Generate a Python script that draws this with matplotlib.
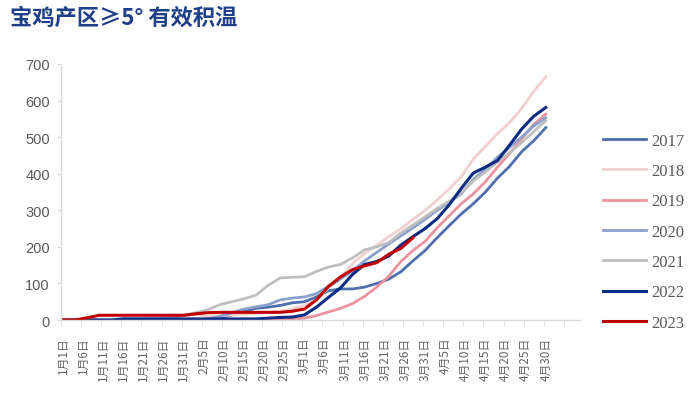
import numpy as np
import matplotlib
matplotlib.use("Agg")
import matplotlib.pyplot as plt

plt.rcParams['font.family'] = ['Noto Sans CJK SC', 'DejaVu Sans']

# category index (Jan 1 .. Apr 30, incl. Feb 29 slot), sampled every 3 categories
idx = list(range(0, 118, 3)) + [120]

s2017 = [0]*12 + [2, 6, 14, 25, 32, 35, 40, 47, 50, 63, 80, 85, 85, 90, 100, 112, 132, 162, 190,
                  225, 258, 290, 318, 350, 388, 420, 460, 490, 526]
s2018 = [0]*7 + [3, 5, 8, 12, 15, 10, 12, 14, 16, 18, 20, 24, 30, 40, 55, 88, 115, 155, 182, 205,
                 228, 250, 275, 300, 328, 358, 392, 440, 475, 510, 540, 578, 625, 665]
s2019 = [0]*19 + [2, 5, 12, 22, 32, 45, 65, 90, 120, 160, 190, 215, 252, 285, 318, 345, 378, 418,
                  455, 495, 535, 563]
s2020 = [0]*12 + [3, 10, 20, 30, 36, 42, 55, 60, 63, 72, 92, 112, 135, 162, 185, 208, 230, 252,
                  275, 300, 322, 345, 385, 412, 445, 472, 500, 530, 553]
s2021 = [0]*4 + [2, 3, 3, 3, 4, 7, 13, 20, 28, 42, 50, 58, 68, 95, 115, 117, 118, 133, 145, 152,
                 170, 192, 200, 212, 238, 260, 282, 305, 325, 348, 380, 405, 432, 458, 485, 515, 545]
s2022 = [0]*5 + [3]*12 + [5, 7, 8, 14, 35, 62, 88, 125, 152, 160, 175, 205, 228, 250, 277, 315,
                          360, 402, 418, 436, 478, 522, 557, 581]
s2023 = [0, 0, 6, 13, 13, 13, 13, 13, 13, 13, 13, 17, 20, 21, 21, 21, 21, 21, 21, 24, 30, 55, 92,
         118, 138, 148, 157, 180, 196, 225] + [np.nan]*11

years = ['2017', '2018', '2019', '2020', '2021', '2022', '2023']
series = [s2017, s2018, s2019, s2020, s2021, s2022, s2023]
colors = ['#4f6fb0', '#f0d0d0', '#ec939e', '#8aa0cd', '#bfbfbf', '#0c2c84', '#c00000']
widths = [2.0, 2.0, 2.0, 2.0, 2.0, 2.2, 2.2]

tick_pos = list(range(0, 121, 5))
tick_labels = ['1月1日', '1月6日', '1月11日', '1月16日', '1月21日', '1月26日', '1月31日',
               '2月5日', '2月10日', '2月15日', '2月20日', '2月25日', '3月1日', '3月6日',
               '3月11日', '3月16日', '3月21日', '3月26日', '3月31日', '4月5日', '4月10日',
               '4月15日', '4月20日', '4月25日', '4月30日']
y_ticks = [0, 100, 200, 300, 400, 500, 600, 700]

fig = plt.figure(figsize=(7.0, 4.14), dpi=100)
ax = fig.add_axes([0.0871, 0.2246, 0.7414, 0.6184])

for yr, s, c, w in zip(years, series, colors, widths):
    ax.plot(idx, s, color=c, lw=w, label=yr, solid_joinstyle='round')

ax.set_xlim(-0.5, 128.5)
ax.set_ylim(0, 700)

for sp in ['top', 'right']:
    ax.spines[sp].set_visible(False)
for sp in ['left', 'bottom']:
    ax.spines[sp].set_color('#d9d9d9')
    ax.spines[sp].set_linewidth(1.0)

ax.set_yticks(y_ticks)
ax.set_yticklabels([str(v) for v in y_ticks], family='Liberation Sans', fontsize=10.5,
                   color='#595959')
ax.tick_params(axis='y', length=3, color='#d9d9d9', pad=5)

ax.set_xticks(tick_pos)
ax.set_xticklabels(tick_labels, rotation=90, fontsize=8.5, color='#666666')
ax.tick_params(axis='x', which='major', length=0, pad=12)
ax.set_xticks([-0.5 + 5 * k for k in range(26)], minor=True)
ax.tick_params(axis='x', which='minor', length=4, color='#d9d9d9')

leg = fig.legend(loc='upper left', bbox_to_anchor=(0.852, 0.693), frameon=False,
                 prop={'family': 'Liberation Serif', 'size': 12}, handlelength=2.6,
                 handletextpad=0.3, labelspacing=0.86, borderaxespad=0)
for t in leg.get_texts():
    t.set_color('#595959')

fig.text(0.014, 0.956, '宝鸡产区≥5° 有效积温', fontsize=16, fontweight='bold',
         color='#1f4089', va='center', ha='left')

fig.savefig('out.png', dpi=100)
